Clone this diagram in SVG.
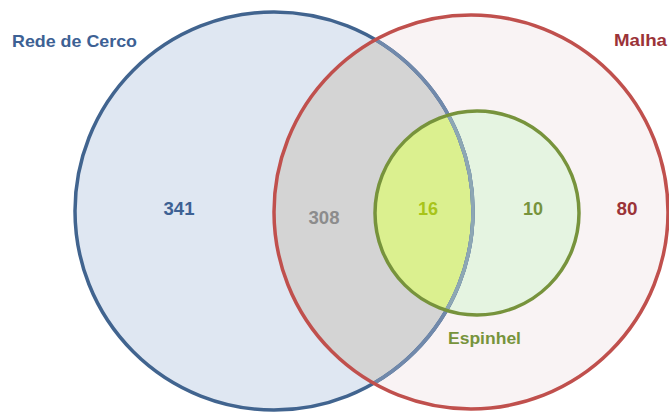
<svg xmlns="http://www.w3.org/2000/svg" width="669" height="412" viewBox="0 0 669 412">
<style>
text{font-family:"Liberation Sans",Arial,sans-serif;font-weight:bold}
.n{font-size:18px;text-anchor:middle}
</style>
<defs>
<clipPath id="cRed"><circle cx="471" cy="212" r="197"/></clipPath>
<clipPath id="cBlue"><circle cx="274" cy="211" r="199"/></clipPath>
<clipPath id="cGreen"><circle cx="477" cy="213" r="102"/></clipPath>
</defs>
<rect width="669" height="412" fill="#ffffff"/>
<g id="rede-de-cerco">
<circle cx="274" cy="211" r="199" fill="#dfe7f2"/>
</g>
<g id="malha">
<circle cx="471" cy="212" r="197" fill="#f9f3f4"/>
<circle cx="274" cy="211" r="199" fill="#d4d4d4" clip-path="url(#cRed)"/>
</g>
<g id="espinhel">
<circle cx="477" cy="213" r="102" fill="#e5f4e1"/>
<circle cx="274" cy="211" r="199" fill="#dbf08f" clip-path="url(#cGreen)"/>
</g>
<g id="outlines">
<circle cx="274" cy="211" r="199" fill="none" stroke="#41648f" stroke-width="3.5"/>
<circle cx="274" cy="211" r="199" fill="none" stroke="#7189ab" stroke-width="3.5" clip-path="url(#cRed)"/>
<circle cx="274" cy="211" r="199" fill="none" stroke="#8da7b4" stroke-width="3.5" clip-path="url(#cGreen)"/>
<circle cx="471" cy="212" r="197" fill="none" stroke="#c0504d" stroke-width="3.5"/>
<circle cx="477" cy="213" r="102" fill="none" stroke="#77933c" stroke-width="3.5"/>
</g>
<g id="labels">
<text x="12" y="47" font-size="17" fill="#3d6194" textLength="125" lengthAdjust="spacingAndGlyphs">Rede de Cerco</text>
<text x="614" y="46" font-size="17" fill="#9b3338" textLength="53" lengthAdjust="spacingAndGlyphs">Malha</text>
<text x="448" y="344" font-size="17" fill="#77933c" textLength="73" lengthAdjust="spacingAndGlyphs">Espinhel</text>
<text class="n" x="179" y="215" fill="#3d6194" textLength="31" lengthAdjust="spacingAndGlyphs">341</text>
<text class="n" x="324" y="224" fill="#8c8c8c" textLength="31" lengthAdjust="spacingAndGlyphs">308</text>
<text class="n" x="428" y="215" fill="#a8c41a" textLength="20" lengthAdjust="spacingAndGlyphs">16</text>
<text class="n" x="533" y="215" fill="#77933c" textLength="20" lengthAdjust="spacingAndGlyphs">10</text>
<text class="n" x="627" y="215" fill="#9b3338" textLength="21" lengthAdjust="spacingAndGlyphs">80</text>
</g>
</svg>
